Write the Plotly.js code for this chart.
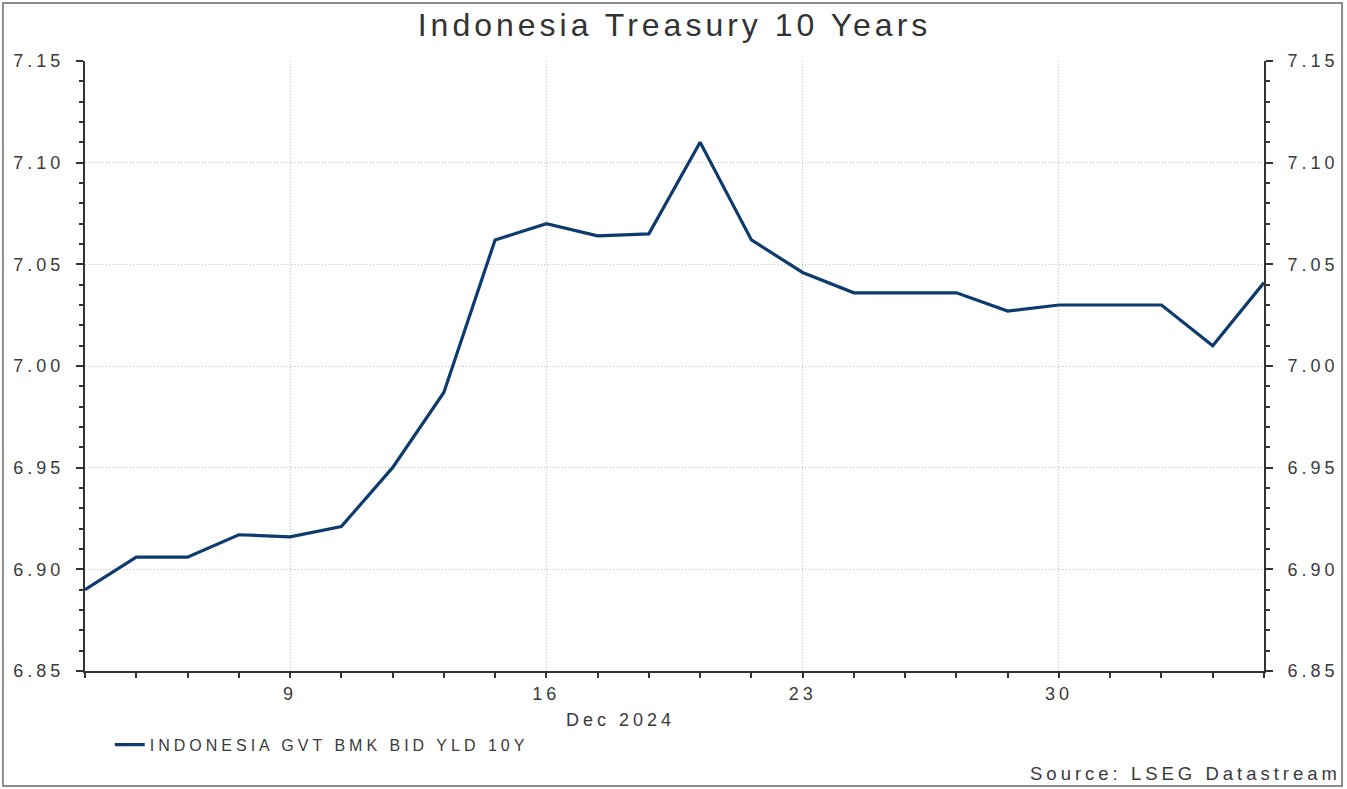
<!DOCTYPE html>
<html>
<head>
<meta charset="utf-8">
<script src="https://cdn.plot.ly/plotly-3.0.1.min.js"></script>
<style>
  html, body { margin: 0; padding: 0; background: #fff; }
  #chart { width: 1347px; height: 789px; }
  svg text { letter-spacing: 4px; }
</style>
</head>
<body>
<div id="chart"></div>
<script>
// Business days (weekends excluded as in the source chart)
const dates = [
  "2024-12-03","2024-12-04","2024-12-05","2024-12-06",
  "2024-12-09","2024-12-10","2024-12-11","2024-12-12","2024-12-13",
  "2024-12-16","2024-12-17","2024-12-18","2024-12-19","2024-12-20",
  "2024-12-23","2024-12-24","2024-12-25","2024-12-26","2024-12-27",
  "2024-12-30","2024-12-31","2025-01-01","2025-01-02","2025-01-03"
];
const yields = [
  6.890, 6.906, 6.906, 6.917,
  6.916, 6.921, 6.950, 6.987, 7.062,
  7.070, 7.064, 7.065, 7.110, 7.062,
  7.046, 7.036, 7.036, 7.036, 7.027,
  7.030, 7.030, 7.030, 7.010, 7.041
];
const labelDates = ["2024-12-09","2024-12-16","2024-12-23","2024-12-30"];
const labelText = ["9","16","23","30"];
const seriesName = "INDONESIA GVT BMK BID YLD 10Y";
const yTicks = [6.85, 6.90, 6.95, 7.00, 7.05, 7.10, 7.15];

const lineColor = "#0d3b6e";
const font = "Liberation Sans, Arial, sans-serif";
const txt = "#3a3a3a";

const dayTickText = dates.map(d => { const i = labelDates.indexOf(d); return i >= 0 ? labelText[i] : ""; });

const traces = [
  {
    x: dates, y: yields, type: "scatter", mode: "lines",
    name: seriesName,
    line: { color: lineColor, width: 3.2 },
    xaxis: "x", yaxis: "y",
    hoverinfo: "x+y"
  },
  {
    x: dates, y: yields, type: "scatter", mode: "lines",
    showlegend: false, hoverinfo: "skip",
    line: { color: "rgba(0,0,0,0)", width: 0 },
    xaxis: "x2", yaxis: "y2"
  }
];

const yCommon = {
  range: [6.85, 7.15],
  tickvals: yTicks,
  ticktext: yTicks.map(v => v.toFixed(2)),
  ticks: "outside", ticklen: 7, tickwidth: 2, tickcolor: "#333",
  minor: { dtick: 0.01, tick0: 6.85, ticks: "outside", ticklen: 4, tickwidth: 2, tickcolor: "#333", showgrid: false },
  showline: true, linecolor: "#333", linewidth: 2,
  zeroline: false,
  tickfont: { family: font, size: 18, color: txt },
  fixedrange: true
};

const grid = { gridcolor: "#bdbdbd", griddash: "1px,2px", gridwidth: 1 };

const layout = {
  width: 1347, height: 789,
  margin: { l: 85, r: 83, t: 61, b: 118 },
  paper_bgcolor: "#ffffff", plot_bgcolor: "#ffffff",
  font: { family: font, color: txt },
  title: {
    text: "Indonesia Treasury 10 Years",
    font: { family: font, size: 32, color: "#333" },
    x: 0.5, xanchor: "center", xref: "paper",
    y: 0.968, yanchor: "middle"
  },
  xaxis: {
    type: "category",
    categoryorder: "array", categoryarray: dates,
    range: [0, dates.length - 1],
    tickvals: dates, ticktext: dayTickText,
    ticks: "outside", ticklen: 5, tickwidth: 2, tickcolor: "#333",
    showline: true, linecolor: "#333", linewidth: 2,
    showgrid: false, zeroline: false,
    tickfont: { family: font, size: 18, color: txt },
    fixedrange: true
  },
  xaxis2: Object.assign({
    type: "category",
    categoryorder: "array", categoryarray: dates,
    range: [0, dates.length - 1],
    overlaying: "x", matches: "x",
    tickvals: labelDates, showticklabels: false, ticks: "",
    showgrid: true,
    showline: false, zeroline: false
  }, grid),
  yaxis: Object.assign({}, yCommon, { side: "left", showgrid: true, ticklabelstandoff: 8 }, grid),
  yaxis2: Object.assign({}, yCommon, {
    side: "right", overlaying: "y", anchor: "x2",
    showgrid: false, ticklabelstandoff: 11
  }),
  showlegend: true,
  legend: {
    x: 0.021, y: -0.121, xanchor: "left", yanchor: "middle",
    orientation: "h",
    font: { family: font, size: 16, color: txt },
    bgcolor: "rgba(0,0,0,0)"
  },
  annotations: [
    {
      text: "Dec 2024", xref: "paper", yref: "paper",
      x: 0.454, y: -0.081, xanchor: "center", yanchor: "middle",
      showarrow: false, font: { family: font, size: 18, color: txt }
    },
    {
      text: "Source: LSEG Datastream", xref: "paper", yref: "paper",
      x: 1.067, y: -0.168, xanchor: "right", yanchor: "middle",
      showarrow: false, font: { family: font, size: 18.5, color: txt }
    }
  ],
  shapes: [
    {
      type: "rect", xref: "paper", yref: "paper",
      x0: -0.0696, x1: 1.0662, y0: -0.1885, y1: 1.0951,
      line: { color: "#8c8c8c", width: 2 }, fillcolor: "rgba(0,0,0,0)", layer: "above"
    }
  ]
};

Plotly.newPlot("chart", traces, layout, { displayModeBar: false, staticPlot: true });
</script>
</body>
</html>
